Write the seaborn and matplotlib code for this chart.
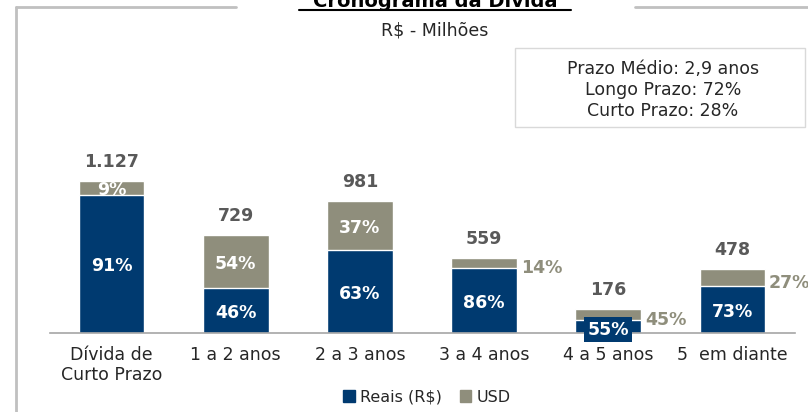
import matplotlib
matplotlib.use("Agg")
import matplotlib.pyplot as plt
import seaborn as sns
import pandas as pd
from matplotlib.lines import Line2D
from matplotlib.patches import Patch, Rectangle

categories = ["Dívida de\nCurto Prazo", "1 a 2 anos", "2 a 3 anos", "3 a 4 anos", "4 a 5 anos", "5  em diante"]
totals = [1127, 729, 981, 559, 176, 478]
reais = [1026, 335, 618, 481, 97, 349]
usd = [101, 394, 363, 78, 79, 129]
reais_pct = ["91%", "46%", "63%", "86%", "55%", "73%"]
usd_pct = ["9%", "54%", "37%", "14%", "45%", "27%"]
total_labels = ["1.127", "729", "981", "559", "176", "478"]
usd_outside = [False, False, False, True, True, True]

NAVY = "#003a70"
GRAY = "#8f8e7c"
TXT = "#595959"

sns.set_theme(style="white")
plt.rcParams["font.family"] = ["DejaVu Sans"]

fig = plt.figure(figsize=(8.08, 4.12), dpi=100)
ax = fig.add_axes([49.5 / 808, 79 / 412, 745 / 808, 269.8 / 412])

df = pd.DataFrame({"cat": categories, "total": totals, "reais": reais})
sns.barplot(data=df, x="cat", y="total", color=GRAY, width=0.53, ax=ax, saturation=1)
sns.barplot(data=df, x="cat", y="reais", color=NAVY, width=0.53, ax=ax, saturation=1)

ax.set_xlim(-0.5, 5.5)
ax.set_ylim(0, 2000)
ax.set_xlabel("")
ax.set_ylabel("")
ax.set_yticks([])
for s in ["top", "right", "left"]:
    ax.spines[s].set_visible(False)
ax.spines["bottom"].set_color("#a6a6a6")
ax.spines["bottom"].set_linewidth(1.2)
ax.tick_params(axis="x", length=0, pad=9, labelsize=12.5, colors="#262626")
for lbl in ax.get_xticklabels():
    lbl.set_linespacing(1.15)

half = 0.53 / 2
BF = 12.5
for i in range(len(categories)):
    t = totals[i]
    r = reais[i]
    ax.text(i, t + 140, total_labels[i], ha="center", va="center",
            fontsize=BF, fontweight="bold", color=TXT)
    if i == 4:
        ax.text(i, r / 2 - 25, reais_pct[i], ha="center", va="center",
                fontsize=BF, fontweight="bold", color="white",
                bbox=dict(boxstyle="square,pad=0.2", fc=NAVY, ec="none"))
    else:
        ax.text(i, r / 2 - 20, reais_pct[i], ha="center", va="center",
                fontsize=BF, fontweight="bold", color="white")
    if usd_outside[i]:
        ax.text(i + half + 0.03, r + (t - r) / 2 - 40, usd_pct[i], ha="left", va="center",
                fontsize=BF, fontweight="bold", color=GRAY, clip_on=False)
    else:
        ax.text(i, r + (t - r) / 2 - 20, usd_pct[i], ha="center", va="center",
                fontsize=BF, fontweight="bold", color="white")

# Title and subtitle
fig.text(435 / 808, 1 - 1 / 412, "Cronograma da Dívida", ha="center", va="center",
         fontsize=14, fontweight="bold", color="black")
fig.add_artist(Line2D([299 / 808, 571 / 808], [1 - 10 / 412, 1 - 10 / 412], color="black", lw=1.5))
fig.text(435 / 808, 1 - 30 / 412, "R$ - Milhões", ha="center", va="center",
         fontsize=12.5, color="#262626")

# Frame lines
fc = "#c0c0c0"
fig.add_artist(Line2D([16 / 808, 16 / 808], [0, 1 - 7 / 412], color=fc, lw=2))
fig.add_artist(Line2D([16 / 808, 236 / 808], [1 - 7 / 412, 1 - 7 / 412], color=fc, lw=2))
fig.add_artist(Line2D([635 / 808, 1], [1 - 7 / 412, 1 - 7 / 412], color=fc, lw=2))

# Info box
fig.add_artist(Rectangle((515 / 808, 1 - 127 / 412), 290 / 808, 79 / 412,
                         transform=fig.transFigure, fc="white", ec="#d9d9d9", lw=1))
for k, line in enumerate(["Prazo Médio: 2,9 anos", "Longo Prazo: 72%", "Curto Prazo: 28%"]):
    fig.text(663 / 808, 1 - (69 + 21 * k) / 412, line, ha="center", va="center",
             fontsize=12.5, color="#262626")

handles = [Patch(color=NAVY, label="Reais (R$)"), Patch(color=GRAY, label="USD")]
fig.legend(handles=handles, loc="center", bbox_to_anchor=(427 / 808, 1 - 397 / 412),
           ncol=2, frameon=False, fontsize=11.5, handlelength=0.7, handleheight=0.7,
           handletextpad=0.35, columnspacing=1.1)

fig.savefig("out.png", dpi=100)
